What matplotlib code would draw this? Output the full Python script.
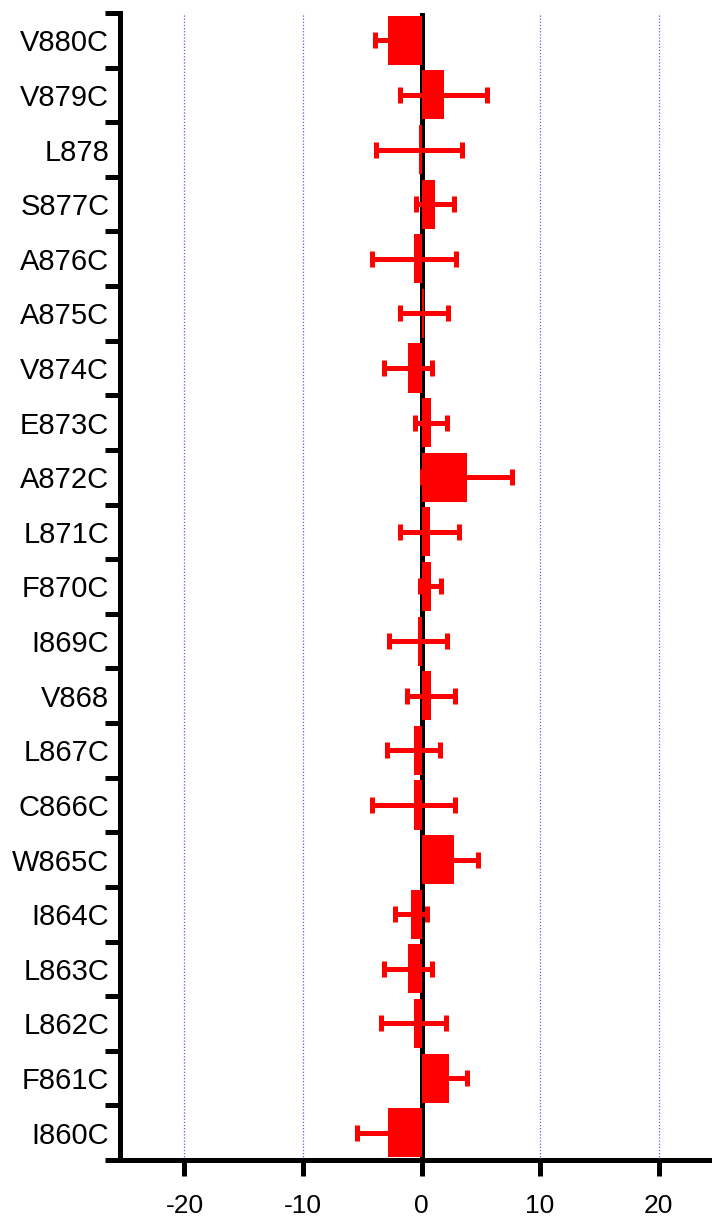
import matplotlib
matplotlib.use("Agg")
import matplotlib.pyplot as plt
import numpy as np

plt.rcParams['font.family'] = ['Liberation Sans', 'DejaVu Sans']

categories = ["V880C", "V879C", "L878", "S877C", "A876C", "A875C", "V874C",
              "E873C", "A872C", "L871C", "F870C", "I869C", "V868", "L867C",
              "C866C", "W865C", "I864C", "L863C", "L862C", "F861C", "I860C"]
values = [-2.87, 1.85, -0.22, 1.15, -0.65, 0.2, -1.18,
          0.78, 3.85, 0.68, 0.78, -0.3, 0.77, -0.68,
          -0.68, 2.75, -0.87, -1.18, -0.68, 2.3, -2.87]
errors = [1.08, 3.68, 3.62, 1.6, 3.56, 2.0, 2.02,
          1.33, 3.82, 2.5, 0.9, 2.44, 2.04, 2.25,
          3.52, 2.03, 1.37, 2.02, 2.72, 1.5, 2.56]
xticks = [-20, -10, 0, 10, 20]

fig = plt.figure(figsize=(7.12, 12.22), dpi=100)
ax = fig.add_axes([0.1692, 0.0507, 1 - 0.1692, 0.9894 - 0.0507])

y = np.arange(len(categories))
ax.axvline(0, color='black', lw=3.6, zorder=1)
ax.barh(y, values, height=0.9, color='#ff0000', zorder=2)
ax.errorbar(values, y, xerr=errors, fmt='none', ecolor='#ff0000',
            elinewidth=3.6, capsize=5.5, capthick=3.6, zorder=3)

for xt in xticks:
    if xt != 0:
        ax.axvline(xt, color='#5a5aff', lw=0.9, ls=(0, (1, 1.5)), zorder=0)

ax.set_xlim(-25.4, 24.5)
ax.set_ylim(len(categories) - 0.5, -0.5)

ax.set_yticks(y)
ax.set_yticklabels(categories, fontsize=21)
ax.set_yticks(np.arange(-0.5, len(categories), 1.0), minor=True)
ax.tick_params(axis='y', which='major', length=0, pad=8)
ax.tick_params(axis='y', which='minor', length=11, width=3.6, direction='out')

ax.set_xticks(xticks)
ax.set_xticklabels([str(v) for v in xticks], fontsize=19)
ax.tick_params(axis='x', which='major', length=11.5, width=3.6, direction='out', pad=13)

for s in ['top', 'right']:
    ax.spines[s].set_visible(False)
for s in ['left', 'bottom']:
    ax.spines[s].set_linewidth(3.6)

fig.savefig("out.png", dpi=100)
